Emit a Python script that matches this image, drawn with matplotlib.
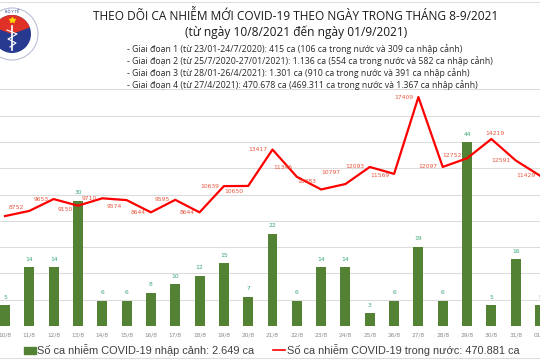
import matplotlib
matplotlib.use("Agg")
import matplotlib.pyplot as plt
from matplotlib.patches import Circle, Wedge, Rectangle
from matplotlib.lines import Line2D

# data
days = ["10/8", "11/8", "12/8", "13/8", "14/8", "15/8", "16/8", "17/8", "18/8",
        "19/8", "20/8", "21/8", "22/8", "23/8", "24/8", "25/8", "26/8", "27/8",
        "28/8", "29/8", "30/8", "31/8", "01/9"]
imported = [5, 14, 14, 30, 6, 6, 8, 10, 12, 15, 7, 22, 6, 14, 14, 3, 6, 19, 6, 44, 5, 16, 5]
domestic = [8360, 8752, 9653, 9150, 9710, 9574, 8644, 9595, 8644, 10639, 10650, 13417,
            11346, 10383, 10797, 12093, 11569, 17409, 12097, 12752, 14219, 12591, 11429]

title = "THEO DÕI CA NHIỄM MỚI COVID-19 THEO NGÀY TRONG THÁNG 8-9/2021"
subtitle = "(từ ngày 10/8/2021 đến ngày 01/9/2021)"
notes = [
    "- Giai đoạn 1 (từ 23/01-24/7/2020): 415 ca (106 ca trong nước và 309 ca nhập cảnh)",
    "- Giai đoạn 2 (từ 25/7/2020-27/01/2021): 1.136 ca (554 ca trong nước và 582 ca nhập cảnh)",
    "- Giai đoạn 3 (từ 28/01-26/4/2021): 1.301 ca (910 ca trong nước và 391 ca nhập cảnh)",
    "- Giai đoạn 4 (từ 27/4/2021): 470.678 ca (469.311 ca trong nước và 1.367 ca nhập cảnh)",
]
legend_bar = "Số ca nhiễm COVID-19 nhập cảnh: 2.649 ca"
legend_line = "Số ca nhiễm COVID-19 trong nước: 470.881 ca"

# label nudges (pixels) for the red numbers
lab_dx = [-5] * 23
lab_dx[20] = 3
lab_dy = [0, 3, 0, -4, 0, -6, 0, 0, 0, 0, -6, 0, 9, 8, 12, 0, -2, 0, 0, 3, 6, 0, 0]

W, H = 540, 360
fig = plt.figure(figsize=(5.4, 3.6), dpi=100)
fig.patch.set_facecolor("white")

green = "#548235"
red = "#ff0000"

y0, y1 = 326, 80
ax = fig.add_axes([0, (H - y0) / H, 1, (y0 - y1) / H])
ax2 = ax.twinx()
x = list(range(len(days)))

# grid lines every 2000 on the line scale, drawn behind the bars
bar_top = 246 / 4.18
line_top = 246 / 26.3 * 2000
for g in range(2000, 18001, 2000):
    ax.axhline(g / line_top * bar_top, color="#dcdcdc", lw=0.8, zorder=0)

ax.bar(x, imported, width=0.41, color=green, zorder=2)
for i, v in enumerate(imported):
    ax.annotate(str(v), (i, v), xytext=(0, 4), textcoords="offset points",
                ha="center", va="bottom", fontsize=4.3, color="#3aa876")
ax.set_ylim(0, bar_top)
ax.set_xlim(-0.206, 22.0)

ax2.plot(x, domestic, color=red, lw=1.6, zorder=3)
for i, v in enumerate(domestic):
    ax2.annotate(str(v), (i, v), xytext=(lab_dx[i] * 0.72, lab_dy[i] * 0.72),
                 textcoords="offset points", ha="right" if lab_dx[i] < 0 else "center",
                 va="center", fontsize=4.3, color="#e8553f")
ax2.set_ylim(0, line_top)
ax2.set_zorder(3)
ax2.patch.set_visible(False)

for a in (ax, ax2):
    for s in a.spines.values():
        s.set_visible(False)
    a.tick_params(length=0)
ax2.set_yticks([])
ax.set_yticks([])
ax.set_xticks(x)
ax.set_xticklabels(days, fontsize=4.2, color="#8a8a8a")
ax.tick_params(axis="x", pad=5)

# header
fig.text(296 / W, 1 - 16 / H, title, ha="center", va="center", fontsize=8.6,
         family="Open Sans", color="#1a1a1a")
fig.text(296 / W, 1 - 32 / H, subtitle, ha="center", va="center", fontsize=8.6,
         family="Open Sans", color="#1a1a1a")
for k, t in enumerate(notes):
    fig.text(127 / W, 1 - (49 + 12 * k) / H, t, ha="left", va="center", fontsize=6.3,
             family="Open Sans", color="#2a2a2a")

# logo
lax = fig.add_axes([0, 0, 1, 1], zorder=5)
lax.set_xlim(0, W)
lax.set_ylim(H, 0)
lax.axis("off")
lax.add_patch(Circle((12, 34), 26, facecolor="white", edgecolor="#b9bfd6", lw=0.8))
lax.add_patch(Circle((12, 34), 19, facecolor="#283a8f", edgecolor="none"))
lax.add_patch(Wedge((12, 34), 19, 200, 340, facecolor="#e03127", edgecolor="none"))
lax.plot([12], [20], marker="*", color="#ffd400", ms=4)
lax.text(12, 11, "BỘ Y TẾ", fontsize=2.6, color="#283a8f", ha="center", va="center")
lax.plot([12, 12], [26, 50], color="white", lw=1.2)
lax.plot([7, 17, 8, 16, 10], [30, 34, 39, 43, 47], color="white", lw=0.8)

# frame lines
lax.plot([0, W], [1.5, 1.5], color="#dddddd", lw=0.8)
lax.plot([0, W], [358, 358], color="#dddddd", lw=0.8)

handles = [Rectangle((0, 0), 1, 1, color=green), Line2D([], [], color=red, lw=1.2)]
fig.legend(handles, [legend_bar, legend_line], loc="center", bbox_to_anchor=(0.503, 1 - 350 / H),
           ncol=2, frameon=False, handlelength=1.1, handleheight=0.6,
           handletextpad=0.1, columnspacing=1.7, prop={"family": "Liberation Sans", "size": 7.95},
           labelcolor="#404040")

fig.savefig("out.png", dpi=100)
